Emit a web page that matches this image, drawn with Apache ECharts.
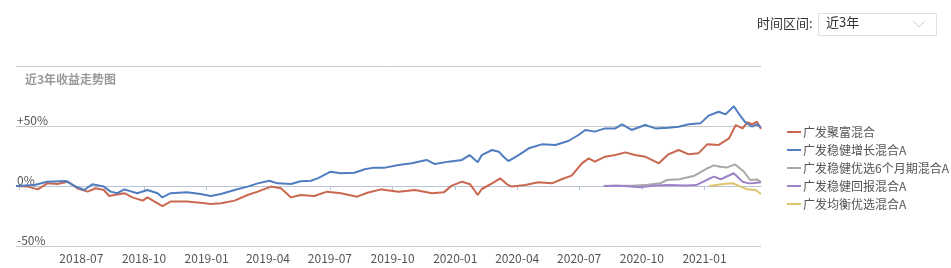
<!DOCTYPE html>
<html><head><meta charset="utf-8">
<script src="https://cdn.jsdelivr.net/npm/echarts@6/dist/echarts.min.js"></script>
<style>html,body{margin:0;padding:0;background:#fff}#c{width:951px;height:268px}</style>
</head><body><div id="c"></div>
<script>
const seriesNames = ['广发聚富混合','广发稳健增长混合A','广发稳健优选6个月期混合A','广发稳健回报混合A','广发均衡优选混合A'];
const seriesColors = ['#c9684f','#4f7dc0','#a8a8a8','#9d83c8','#dfc36a'];
const yTicks = [-50, 0, 50, 100];
const xStart = '2018-03-27';
const xEnd = '2021-03-25';

const juFu = [
['2018-03-27',0],['2018-04-13',-0.5],['2018-04-28',-2.8],['2018-05-12',2.2],['2018-05-27',1.7],['2018-06-11',3.6],
['2018-06-25',-1.9],['2018-07-10',-4.7],['2018-07-22',-1.9],['2018-08-03',-3.3],['2018-08-11',-8.3],['2018-08-18',-7.5],
['2018-09-02',-6],['2018-09-14',-9.5],['2018-09-29',-12.2],['2018-10-06',-9.5],['2018-10-21',-14.4],['2018-10-28',-16.7],
['2018-11-09',-13],['2018-12-03',-13],['2018-12-23',-13.9],['2019-01-07',-15],['2019-01-22',-14.4],['2019-02-11',-12.2],
['2019-03-02',-7.5],['2019-03-17',-4.7],['2019-04-05',-0.5],['2019-04-20',-1.9],['2019-05-05',-9.5],['2019-05-19',-7.5],
['2019-06-08',-8.3],['2019-06-27',-4.7],['2019-07-17',-6],['2019-08-10',-8.9],['2019-08-25',-5.6],['2019-09-14',-2.8],
['2019-09-20',-3.3],['2019-10-10',-4.7],['2019-11-03',-3.3],['2019-11-28',-6.1],['2019-12-15',-5.3],['2019-12-27',0.3],
['2020-01-11',3.6],['2020-01-23',1.4],['2020-02-03',-7.5],['2020-02-09',-2.5],['2020-02-24',2.2],['2020-03-07',6.4],
['2020-03-17',1.4],['2020-03-24',-0.5],['2020-04-13',0.8],['2020-05-02',3.1],['2020-05-22',2.2],['2020-06-06',5.8],
['2020-06-20',8.6],['2020-07-05',18.9],['2020-07-15',23],['2020-07-24',20.3],['2020-08-08',24.4],['2020-08-23',25.8],
['2020-09-07',28],['2020-09-21',25.8],['2020-10-06',24.4],['2020-10-26',18.9],['2020-11-09',26.4],['2020-11-24',30],
['2020-12-09',26.4],['2020-12-23',27.2],['2021-01-05',34.7],['2021-01-22',34.2],['2021-02-06',39.7],['2021-02-16',50.8],
['2021-02-26',48],['2021-03-05',53.1],['2021-03-12',51.4],['2021-03-19',53.6],['2021-03-25',47.5]
];
const wenJian = [
['2018-03-27',0],['2018-04-23',0.8],['2018-05-12',3.6],['2018-06-08',4.2],['2018-06-23',-0.5],['2018-07-05',-3.3],
['2018-07-17',1.4],['2018-08-03',-0.5],['2018-08-13',-4.7],['2018-08-23',-6],['2018-09-02',-2.8],['2018-09-21',-6],
['2018-10-06',-3.3],['2018-10-21',-6],['2018-10-28',-9.5],['2018-11-09',-6],['2018-12-03',-5.3],['2018-12-23',-6.7],
['2019-01-07',-8.3],['2019-01-22',-6.7],['2019-02-11',-3.3],['2019-03-02',-0.5],['2019-03-17',2.2],['2019-04-03',4.4],
['2019-04-15',2.2],['2019-05-05',1.7],['2019-05-19',3.9],['2019-06-03',4.4],['2019-06-13',6.4],['2019-07-02',11.9],
['2019-07-17',10.6],['2019-08-06',11.1],['2019-08-21',13.9],['2019-09-04',15.3],['2019-09-20',15.3],['2019-10-10',17.5],
['2019-10-29',18.9],['2019-11-20',21.7],['2019-12-02',18.3],['2019-12-22',20.3],['2020-01-11',21.7],['2020-01-22',25.8],
['2020-02-03',19.7],['2020-02-09',25.8],['2020-02-24',30],['2020-03-05',28.6],['2020-03-12',24.4],['2020-03-19',20.8],
['2020-04-03',25.8],['2020-04-18',31.4],['2020-05-07',34.7],['2020-05-27',34.2],['2020-06-15',37.5],['2020-06-30',42.5],
['2020-07-10',46.7],['2020-07-24',45.3],['2020-08-08',48],['2020-08-23',48],['2020-09-02',51.4],['2020-09-16',46.7],
['2020-10-06',50.8],['2020-10-21',48],['2020-11-09',48.6],['2020-11-24',49.4],['2020-12-09',51.4],['2020-12-26',52.2],
['2021-01-07',58.6],['2021-01-22',61.9],['2021-02-01',59.7],['2021-02-13',66.5],['2021-02-20',60.6],['2021-03-02',53.1],
['2021-03-12',49.4],['2021-03-19',51.4],['2021-03-25',49]
];
const youXuan6 = [
['2020-08-06',0],['2020-08-25',0.3],['2020-09-18',0.2],['2020-10-10',1],['2020-10-28',2.2],['2020-11-07',5],
['2020-11-25',5.6],['2020-12-16',8.3],['2021-01-05',14.7],['2021-01-15',17.2],['2021-01-24',16],['2021-02-03',15.5],
['2021-02-15',18],['2021-02-28',11.9],['2021-03-09',5],['2021-03-19',5.5],['2021-03-25',3]
];
const huiBao = [
['2020-08-06',0],['2020-08-25',0.3],['2020-09-10',-0.3],['2020-09-29',-1],['2020-10-20',0.5],['2020-11-10',0.8],
['2020-12-05',0.5],['2020-12-20',0.8],['2021-01-06',5.6],['2021-01-15',7.8],['2021-01-25',5.6],['2021-02-13',10.6],
['2021-02-26',3.6],['2021-03-07',2.2],['2021-03-15',2.5],['2021-03-25',3.2]
];
const junHeng = [
['2021-01-08',0],['2021-01-10',1.4],['2021-01-29',1.7],['2021-02-12',2.2],['2021-02-23',-0.5],['2021-03-05',-2.8],
['2021-03-17',-3.3],['2021-03-25',-6.7]
];
const allData = [juFu, wenJian, youXuan6, huiBao, junHeng];

const FONT = '"Microsoft YaHei","Noto Sans CJK SC",sans-serif';
const chart = echarts.init(document.getElementById('c'), null, {renderer:'canvas'});
chart.setOption({
  animation:false,
  textStyle:{fontFamily:FONT},
  grid:{left:16,right:190,top:66,bottom:22},
  legend:{
    orient:'vertical', left:782, top:120, itemGap:4, itemWidth:14, itemHeight:2, icon:'rect',
    textStyle:{color:'#555',fontSize:12,fontFamily:FONT,padding:[0,0,0,-3],lineHeight:14},
    data:seriesNames
  },
  xAxis:{
    type:'time', min:xStart, max:xEnd, splitNumber:12,
    minInterval:80*86400000, maxInterval:100*86400000,
    axisLine:{lineStyle:{color:'#b9c4d6'}},
    axisTick:{length:4,lineStyle:{color:'#b9c4d6'}},
    splitLine:{show:false},
    axisLabel:{color:'#555',fontSize:12,margin:6,showMinLabel:false,showMaxLabel:false,
      formatter:function(v){const d=new Date(v); if(d.getDate()!==1) return ''; const y=d.getFullYear(), m=d.getMonth()+1;
        if(y===2018&&m===4) return ''; return y+'-'+(m<10?'0':'')+m;}}
  },
  yAxis:{
    type:'value', min:yTicks[0], max:yTicks[yTicks.length-1], interval:50,
    axisLine:{show:false}, axisTick:{show:false},
    splitLine:{lineStyle:{color:'#c8c8c8'}},
    axisLabel:{inside:true, verticalAlign:'bottom', color:'#555', fontSize:12, margin:1,
      formatter:function(v){ if(v===100) return ''; return v>0?('+'+v+'%'):(v+'%'); }}
  },
  series: allData.map((d,i)=>({
    name:seriesNames[i], type:'line', data:d, showSymbol:false, symbol:'none',
    lineStyle:{width:2,color:seriesColors[i]}, itemStyle:{color:seriesColors[i]}
  })),
  graphic:[
    {type:'text', left:25, top:73, style:{text:'近3年收益走势图', fill:'#999', font:'bold 12px '+FONT}},
    {type:'text', left:757, top:17, style:{text:'时间区间:', fill:'#333', font:'13px '+FONT}},
    {type:'rect', shape:{x:818.5,y:13.5,width:118,height:22}, style:{fill:'#fff',stroke:'#e0e0e0',lineWidth:1}},
    {type:'text', left:826, top:16, style:{text:'近3年', fill:'#333', font:'13px '+FONT}},
    {type:'polyline', shape:{points:[[913,21],[919,27],[925,21]]}, style:{stroke:'#d0d0d0',lineWidth:1,fill:null}}
  ]
});
</script></body></html>
